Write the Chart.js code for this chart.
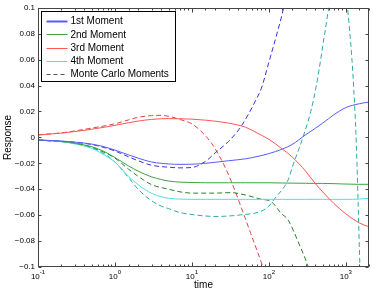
<!DOCTYPE html>
<html lang="en">
  <head>
    <meta charset="UTF-8" />
    <title>Moments vs Monte Carlo</title>
    <script src="https://cdn.jsdelivr.net/npm/chart.js@4.4.0/dist/chart.umd.min.js"></script>
    <style>
      html,
      body {
        margin: 0;
        padding: 0;
        background: #fff;
      }
    </style>
  </head>
  <body>
    <canvas id="moments" width="374" height="294"></canvas>
    <script>
      // analytic moments share one time grid
      const tMoment = [0.1, 0.2, 0.3, 0.5, 0.7, 1, 1.5, 2, 3, 4, 5, 7, 10, 15, 20, 30, 50, 70, 100, 150, 200, 300, 400, 500, 700, 1000, 1500, 2000];
      const m1 = [-0.002, -0.0028, -0.0036, -0.0052, -0.007, -0.0098, -0.0135, -0.016, -0.019, -0.02, -0.0205, -0.0208, -0.0207, -0.02, -0.0192, -0.018, -0.0165, -0.0148, -0.0125, -0.009, -0.0055, 0.002, 0.007, 0.011, 0.0175, 0.023, 0.026, 0.0273];
      const m2 = [-0.002, -0.003, -0.0045, -0.0072, -0.0105, -0.0155, -0.022, -0.026, -0.0305, -0.0325, -0.0337, -0.0345, -0.0348, -0.035, -0.035, -0.035, -0.035, -0.035, -0.035, -0.0352, -0.0353, -0.0354, -0.0355, -0.0355, -0.0357, -0.036, -0.0362, -0.0362];
      const m3 = [0.0018, 0.0033, 0.0045, 0.0063, 0.0077, 0.0093, 0.0113, 0.0126, 0.0139, 0.0144, 0.0145, 0.0144, 0.0141, 0.0133, 0.0125, 0.011, 0.0078, 0.0035, -0.0015, -0.009, -0.015, -0.026, -0.0355, -0.042, -0.051, -0.059, -0.066, -0.069];
      const m4 = [-0.002, -0.0033, -0.005, -0.0085, -0.013, -0.019, -0.03, -0.0365, -0.0432, -0.0458, -0.047, -0.0476, -0.0478, -0.0478, -0.0478, -0.0478, -0.0478, -0.0478, -0.0478, -0.0478, -0.0478, -0.0478, -0.0478, -0.0478, -0.0478, -0.0478, -0.0476, -0.047];

      // Monte Carlo moments
      const tMc1 = [0.1, 0.3, 0.5, 1, 1.5, 2, 3, 5, 7, 10, 15, 20, 30, 43, 68, 80, 100, 130, 155, 200];
      const mc1 = [-0.002, -0.0038, -0.0055, -0.0105, -0.015, -0.018, -0.0215, -0.023, -0.0235, -0.0232, -0.0185, -0.012, -0.003, 0.008, 0.029, 0.038, 0.058, 0.082, 0.1, 0.14];
      const tMc2 = [0.1, 0.3, 0.5, 0.7, 1, 1.5, 2, 3, 5, 7, 10, 20, 32, 50, 79, 107, 144, 177, 250, 322, 400];
      const mc2 = [-0.002, -0.0045, -0.0075, -0.011, -0.016, -0.0245, -0.03, -0.0365, -0.04, -0.042, -0.043, -0.043, -0.0426, -0.0445, -0.0477, -0.0495, -0.0585, -0.0636, -0.083, -0.0995, -0.12];
      const tMc3 = [0.1, 0.2, 0.3, 0.5, 1, 1.5, 2, 3, 4, 5, 7, 10, 13, 18, 25, 32, 45, 58, 83, 100];
      const mc3 = [0.002, 0.0035, 0.005, 0.0072, 0.0105, 0.0135, 0.0155, 0.0168, 0.017, 0.0163, 0.0138, 0.0105, 0.005, -0.0045, -0.019, -0.033, -0.056, -0.074, -0.0995, -0.115];
      const tMc4 = [0.1, 0.3, 0.5, 0.7, 1, 1.5, 2, 3, 4, 5, 7, 10, 20, 43, 79, 100, 120, 177, 204, 277, 350, 414, 531, 600, 800, 1052, 1352, 1524, 1600];
      const mc4 = [-0.002, -0.0045, -0.008, -0.012, -0.019, -0.031, -0.04, -0.049, -0.053, -0.055, -0.058, -0.0595, -0.061, -0.0598, -0.057, -0.053, -0.047, -0.033, -0.022, 0, 0.02, 0.04, 0.08, 0.1, 0.14, 0.1, 0.003, -0.0995, -0.14];

      const legendLabels = ['1st Moment', '2nd Moment', '3rd Moment', '4th Moment', 'Monte Carlo Moments'];
      const xMin = 0.1, xMax = 2000;
      const yMin = -0.1, yMax = 0.1, yStep = 0.02;

      const FONT = '"Liberation Sans", Arial, Helvetica, sans-serif';

      function pts(t, v) {
        return t.map((x, i) => ({ x: x, y: v[i] }));
      }

      function series(t, v, color, dashed) {
        return {
          data: pts(t, v),
          borderColor: color,
          borderWidth: 1,
          borderDash: dashed ? [5, 3] : [],
          pointRadius: 0,
          fill: false,
          cubicInterpolationMode: 'monotone',
        };
      }

      function fmtY(v) {
        const s = String(+v.toFixed(2));
        return s === '-0' ? '0' : s.replace('-', '\u2212');
      }

      const matlabAxes = {
        id: 'matlabAxes',
        afterDatasetsDraw(chart) {
          const { ctx, chartArea: a } = chart;
          const x = chart.scales.x, y = chart.scales.y;
          const L = Math.round(a.left) + 0.5, R = Math.round(a.right) - 0.5;
          const T = Math.round(a.top) + 0.5, B = Math.round(a.bottom) - 0.5;
          ctx.save();
          ctx.strokeStyle = '#444';
          ctx.lineWidth = 1;
          ctx.setLineDash([]);
          ctx.beginPath();
          x.ticks.forEach((t) => {
            const lg = Math.log10(t.value);
            const major = Math.abs(lg - Math.round(lg)) < 1e-6;
            const px = Math.round(x.getPixelForValue(t.value)) + 0.5;
            const len = major ? 4 : 2;
            ctx.moveTo(px, B); ctx.lineTo(px, B - len);
            ctx.moveTo(px, T); ctx.lineTo(px, T + len);
          });
          y.ticks.forEach((t) => {
            const py = Math.round(y.getPixelForValue(t.value)) + 0.5;
            ctx.moveTo(L, py); ctx.lineTo(L + 3, py);
            ctx.moveTo(R, py); ctx.lineTo(R - 3, py);
          });
          ctx.stroke();
          ctx.strokeRect(L, T, R - L, B - T);

          // x tick labels: 10 with superscript exponent
          ctx.fillStyle = '#000';
          ctx.textBaseline = 'middle';
          ctx.textAlign = 'left';
          x.ticks.forEach((t) => {
            const lg = Math.log10(t.value);
            if (Math.abs(lg - Math.round(lg)) > 1e-6) return;
            const e = String(Math.round(lg));
            const px = x.getPixelForValue(t.value);
            ctx.font = '8px ' + FONT;
            const wb = ctx.measureText('10').width;
            ctx.font = '6px ' + FONT;
            const we = ctx.measureText(e).width;
            const x0 = px - (wb + we) / 2;
            ctx.font = '8px ' + FONT;
            ctx.fillText('10', x0, B + 10);
            ctx.font = '6px ' + FONT;
            ctx.fillText(e, x0 + wb, B + 6);
          });
          ctx.restore();
        },
      };

      const boxLegend = {
        id: 'boxLegend',
        afterDraw(chart) {
          const { ctx, chartArea: a } = chart;
          const ds = chart.data.datasets;
          const bx = Math.round(a.left) + 3.5, by = Math.round(a.top) + 3.5;
          const bw = 134, bh = 70;
          ctx.save();
          ctx.fillStyle = '#fff';
          ctx.fillRect(bx, by, bw, bh);
          ctx.strokeStyle = '#000';
          ctx.lineWidth = 1;
          ctx.strokeRect(bx, by, bw, bh);
          ctx.font = '10px ' + FONT;
          ctx.textBaseline = 'middle';
          ctx.fillStyle = '#000';
          legendLabels.forEach((lab, i) => {
            const yy = by + 9.5 + i * 13.3;
            const d = i < 4 ? ds[i] : null;
            ctx.beginPath();
            ctx.strokeStyle = d ? d.borderColor : '#555';
            ctx.lineWidth = i === 0 ? 2 : 1;
            ctx.setLineDash(d ? [] : [4, 3]);
            ctx.moveTo(bx + 5, Math.round(yy) + 0.5);
            ctx.lineTo(bx + 26, Math.round(yy) + 0.5);
            ctx.stroke();
            ctx.fillText(lab, bx + 29, yy + 0.5);
          });
          ctx.restore();
        },
      };

      new Chart(document.getElementById('moments'), {
        type: 'line',
        data: {
          datasets: [
            series(tMoment, m1, '#5a5aff', false),
            series(tMoment, m2, '#3ea33e', false),
            series(tMoment, m3, '#ff5555', false),
            series(tMoment, m4, '#55dcdc', false),
            series(tMc1, mc1, '#3535e0', true),
            series(tMc2, mc2, '#2c7f2c', true),
            series(tMc3, mc3, '#e04444', true),
            series(tMc4, mc4, '#2eaaaa', true),
          ],
        },
        options: {
          responsive: false,
          animation: false,
          layout: { padding: { top: 7, right: 5, left: 0, bottom: 0 } },
          plugins: {
            legend: { display: false },
            tooltip: { enabled: false },
          },
          scales: {
            x: {
              type: 'logarithmic',
              min: xMin,
              max: xMax,
              grid: { display: false, drawTicks: false },
              border: { display: false },
              ticks: { display: false },
              title: {
                display: true,
                text: 'time',
                color: '#000',
                font: { family: FONT, size: 10 },
                padding: { top: 0, bottom: 3 },
              },
              afterFit(scale) {
                scale.height = 27;
              },
            },
            y: {
              min: yMin,
              max: yMax,
              grid: { display: false, drawTicks: false },
              border: { display: false },
              ticks: {
                stepSize: yStep,
                color: '#000',
                padding: 3,
                font: { family: FONT, size: 8 },
                callback: (v) => fmtY(v),
              },
              title: {
                display: true,
                text: 'Response',
                color: '#000',
                font: { family: FONT, size: 10 },
                padding: { top: 2, bottom: 0 },
              },
              afterFit(scale) {
                scale.width = 38;
              },
            },
          },
        },
        plugins: [matlabAxes, boxLegend],
      });
    </script>
  </body>
</html>
